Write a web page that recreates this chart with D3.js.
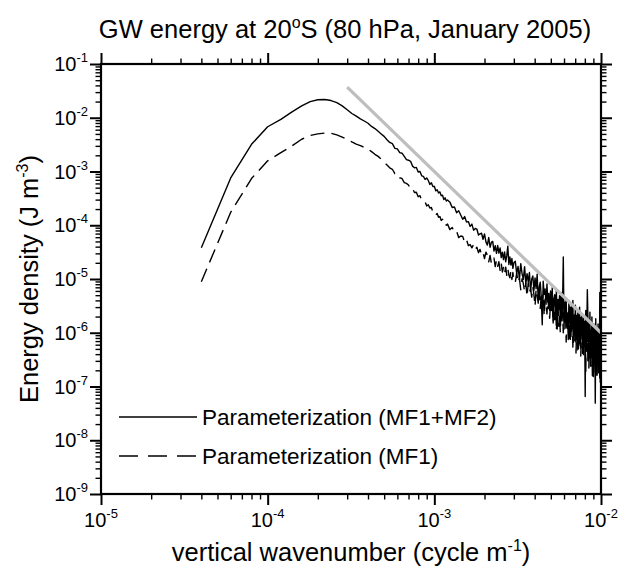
<!DOCTYPE html>
<html><head><meta charset="utf-8">
<script src="https://cdn.jsdelivr.net/npm/d3@7"></script>
<style>
body{margin:0;background:#fff}
svg{display:block}
text{font-family:"Liberation Sans",Arial,Helvetica,sans-serif;fill:#000}
</style>
</head><body>
<svg id="chart" width="621" height="572"></svg>
<script>
// ---------------- data ----------------
const wavenumber = [
4e-5,6e-5,8e-5,10e-5,12e-5,14e-5,16e-5,18e-5,20e-5,22e-5,24e-5,26e-5,28e-5,30e-5,32e-5,34e-5,36e-5,38e-5,40e-5,42e-5,
44e-5,46e-5,48e-5,50e-5,52e-5,54e-5,56e-5,58e-5,60e-5,62e-5,64e-5,66e-5,68e-5,70e-5,72e-5,74e-5,76e-5,78e-5,80e-5,82e-5,
84e-5,86e-5,88e-5,90e-5,92e-5,94e-5,96e-5,98e-5,100e-5,102e-5,104e-5,106e-5,108e-5,110e-5,112e-5,114e-5,116e-5,118e-5,120e-5,
124e-5,128e-5,132e-5,136e-5,140e-5,144e-5,148e-5,152e-5,156e-5,160e-5,164e-5,168e-5,172e-5,176e-5,180e-5,184e-5,188e-5,192e-5,196e-5,200e-5,
204e-5,208e-5,212e-5,216e-5,220e-5,224e-5,228e-5,232e-5,236e-5,240e-5,244e-5,248e-5,252e-5,256e-5,260e-5,264e-5,268e-5,272e-5,276e-5,280e-5,
284e-5,288e-5,292e-5,296e-5,300e-5,
306e-5,312e-5,318e-5,324e-5,330e-5,336e-5,342e-5,348e-5,354e-5,360e-5,366e-5,372e-5,378e-5,384e-5,390e-5,396e-5,402e-5,408e-5,414e-5,420e-5,
426e-5,432e-5,438e-5,444e-5,450e-5,456e-5,462e-5,468e-5,474e-5,480e-5,486e-5,492e-5,498e-5,504e-5,510e-5,516e-5,522e-5,528e-5,534e-5,540e-5,
546e-5,552e-5,558e-5,564e-5,570e-5,576e-5,582e-5,588e-5,594e-5,600e-5,606e-5,612e-5,618e-5,624e-5,630e-5,636e-5,642e-5,648e-5,654e-5,660e-5,
666e-5,672e-5,678e-5,684e-5,690e-5,696e-5,702e-5,708e-5,714e-5,720e-5,726e-5,732e-5,738e-5,744e-5,750e-5,756e-5,762e-5,768e-5,774e-5,780e-5,
786e-5,792e-5,798e-5,804e-5,810e-5,816e-5,822e-5,828e-5,834e-5,840e-5,846e-5,852e-5,858e-5,864e-5,870e-5,876e-5,882e-5,888e-5,894e-5,900e-5,
906e-5,912e-5,918e-5,924e-5,930e-5,936e-5,942e-5,948e-5,954e-5,960e-5,966e-5,972e-5,978e-5,984e-5,990e-5,996e-5,1000e-5
];

const energyMF1MF2 = [
3.8e-5,7.6e-4,3.2e-3,6.8e-3,9.3e-3,1.29e-2,1.66e-2,2.0e-2,2.16e-2,2.19e-2,2.09e-2,1.91e-2,1.66e-2,1.41e-2,1.20e-2,1.07e-2,9.55e-3,8.7e-3,7.9e-3,6.9e-3,
6.3e-3,5.6e-3,5.0e-3,4.5e-3,3.9e-3,3.47e-3,3.3e-3,2.7e-3,2.63e-3,2.24e-3,2.19e-3,1.91e-3,1.66e-3,1.62e-3,1.55e-3,1.26e-3,1.17e-3,1.19e-3,9.8e-4,1.0e-3,
8.3e-4,8.1e-4,7.1e-4,7.6e-4,6.8e-4,5.75e-4,6.2e-4,5.25e-4,5.3e-4,4.37e-4,4.57e-4,3.98e-4,4.17e-4,3.55e-4,3.63e-4,3.02e-4,3.24e-4,2.82e-4,2.95e-4,
2.69e-4,2.14e-4,2.19e-4,1.70e-4,1.86e-4,1.55e-4,1.29e-4,1.45e-4,1.15e-4,1.17e-4,9.5e-5,1.05e-4,8.1e-5,8.7e-5,8.5e-5,6.6e-5,6.9e-5,7.1e-5,5.5e-5,6.9e-5,
4.9e-5,4.27e-5,5.9e-5,3.9e-5,4.8e-5,5.0e-5,3.3e-5,4.17e-5,3.0e-5,4.2e-5,3.02e-5,3.8e-5,2.5e-5,3.16e-5,2.29e-5,3.2e-5,2.09e-5,2.69e-5,4.07e-5,1.86e-5,
2.57e-5,1.82e-5,2.4e-5,1.58e-5,2.0e-5,
2.14e-5,1.26e-5,1.72e-5,9.8e-6,1.93e-5,1.26e-5,9.9e-6,1.70e-5,8.1e-6,1.26e-5,8.8e-6,1.32e-5,5.9e-6,1.0e-5,1.14e-5,6.2e-6,
1.05e-5,6.6e-6,1.23e-5,4.07e-6,7.1e-6,8.7e-6,4.7e-6,1.41e-6,9.1e-6,5.2e-6,6.5e-6,3.4e-6,8.1e-6,3.7e-6,5.4e-6,2.63e-6,6.0e-6,
3.1e-6,6.9e-6,1.66e-6,4.27e-6,5.1e-6,2.14e-6,6.3e-6,1.17e-6,4.17e-6,2.69e-6,4.9e-6,1.55e-6,5.6e-6,1.82e-6,3.3e-6,2.57e-5,1.17e-6,3.7e-6,1.95e-6,4.37e-6,1.29e-6,2.34e-6,
7.5e-7,3.98e-6,1.48e-6,2.99e-6,8.5e-7,3.27e-6,1.55e-6,3.98e-6,6.6e-7,2.11e-6,1.0e-6,3.27e-6,7.5e-7,2.09e-6,4.8e-7,2.34e-6,1.66e-6,7.9e-7,3.0e-6,5.8e-7,1.93e-6,9.7e-7,2.29e-6,4.1e-7,1.24e-6,1.97e-6,5.8e-7,
1.62e-6,6.5e-8,2.6e-6,6.0e-7,1.2e-6,6.3e-6,2.14e-6,7.4e-7,1.66e-6,3.4e-7,2.4e-6,2.4e-7,1.11e-6,5.2e-7,1.97e-6,2.7e-7,1.24e-6,1.53e-7,1.46e-6,6.2e-7,
1.02e-6,4.9e-8,1.82e-6,1.64e-7,7.6e-7,1.12e-6,2.85e-7,1.46e-6,1.8e-7,7.5e-7,3.2e-7,5.6e-6,1.2e-7,8.6e-7,3.7e-7
];

const energyMF1 = [
8.9e-6,1.74e-4,7.4e-4,1.58e-3,2.24e-3,3.0e-3,3.98e-3,4.68e-3,5.0e-3,5.19e-3,5.13e-3,4.79e-3,4.37e-3,3.98e-3,3.55e-3,3.24e-3,3.02e-3,2.82e-3,2.63e-3,2.34e-3,
2.09e-3,1.91e-3,1.70e-3,1.48e-3,1.32e-3,1.17e-3,1.10e-3,9.1e-4,9.2e-4,7.6e-4,7.4e-4,6.2e-4,6.0e-4,5.6e-4,4.68e-4,4.8e-4,4.07e-4,4.1e-4,3.39e-4,3.55e-4,
2.88e-4,2.9e-4,2.75e-4,2.29e-4,2.4e-4,2.09e-4,2.14e-4,1.78e-4,1.8e-4,1.55e-4,1.66e-4,1.41e-4,1.45e-4,1.23e-4,1.29e-4,1.15e-4,1.2e-4,1.0e-4,1.05e-4,
8.3e-5,9.1e-5,7.4e-5,7.8e-5,5.9e-5,6.3e-5,6.2e-5,4.8e-5,5.4e-5,4.17e-5,4.37e-5,3.8e-5,4.4e-5,3.55e-5,3.9e-5,3.09e-5,3.55e-5,2.82e-5,3.1e-5,2.4e-5,
3.16e-5,2.79e-5,2.09e-5,2.75e-5,1.95e-5,2.02e-5,2.45e-5,1.70e-5,2.24e-5,1.72e-5,2.09e-5,1.45e-5,1.95e-5,1.35e-5,1.64e-5,1.26e-5,1.66e-5,1.17e-5,1.55e-5,1.19e-5,
1.05e-5,1.41e-5,9.8e-6,1.32e-5,9.1e-6,
8.6e-6,1.29e-5,8.6e-6,1.02e-5,6.3e-6,1.01e-5,8.2e-6,5.8e-6,8.3e-6,4.7e-6,8.5e-6,5.6e-6,6.5e-6,4.6e-6,7.1e-6,5.1e-6,
3.1e-6,6.5e-6,4.9e-6,3.55e-6,6.6e-6,2.82e-6,4.8e-6,3.16e-6,5.3e-6,2.04e-6,4.27e-6,3.67e-6,2.24e-6,4.57e-6,2.66e-6,1.86e-6,3.63e-6,
2.6e-6,4.27e-6,1.45e-6,2.99e-6,1.74e-6,4.27e-6,1.08e-6,2.82e-6,3.27e-6,1.32e-6,2.29e-6,1.0e-6,3.27e-6,1.48e-6,2.43e-6,1.0e-6,2.45e-6,1.51e-6,2.88e-6,6.7e-7,1.84e-6,1.14e-6,
2.57e-6,7.8e-7,1.51e-6,6.5e-7,2.19e-6,1.07e-6,2.34e-6,5.4e-7,1.58e-6,1.78e-6,6.6e-7,2.24e-6,4.2e-7,1.23e-6,7.9e-7,1.78e-6,5.0e-7,1.38e-6,6.3e-7,1.74e-6,3.7e-7,1.1e-6,9.3e-7,5.2e-7,1.66e-6,3.8e-7,1.05e-6,
6.5e-7,1.45e-6,1.74e-7,1.26e-6,4.5e-7,1.62e-6,3.0e-7,8.1e-7,2.2e-7,1.35e-6,4.8e-7,9.8e-7,2.4e-7,1.12e-6,5.2e-7,1.58e-7,1.29e-6,3.2e-7,7.1e-7,2.5e-7,
1.29e-6,1.82e-7,7.2e-7,3.7e-7,9.1e-7,1.41e-7,7.2e-7,3.7e-7,9.3e-7,1.9e-7,5.1e-7,1.38e-7,7.1e-7,2.8e-7,4.4e-7
];

// k^-3 reference line (end points)
const referenceWavenumber = [3e-4, 1e-2];
const referenceEnergy = [3.7e-2, 1.0e-6];

const xTickValues = [1e-5, 1e-4, 1e-3, 1e-2];
const xTickExponents = ["-5", "-4", "-3", "-2"];
const yTickValues = [1e-9, 1e-8, 1e-7, 1e-6, 1e-5, 1e-4, 1e-3, 1e-2, 1e-1];
const yTickExponents = ["-9", "-8", "-7", "-6", "-5", "-4", "-3", "-2", "-1"];

const seriesNames = ["Parameterization (MF1+MF2)", "Parameterization (MF1)"];
const seriesDash = [null, "14,7"];
const legendDash = [null, "19,10"];

const titleParts = ["GW energy at 20", "o", "S (80 hPa, January 2005)"];
const xTitleParts = ["vertical wavenumber (cycle m", "-1", ")"];
const yTitleParts = ["Energy density (J m", "-3", ")"];

// ---------------- layout ----------------
const L = 101, R = 601, T = 64, B = 494;
const svg = d3.select("#chart");

const x = d3.scaleLog().domain([1e-5, 1e-2]).range([L, R]);
const y = d3.scaleLog().domain([1e-9, 1e-1]).range([B, T]);

const isMajor = (v, list) => list.some(t => Math.abs(v - t) / t < 1e-6);
const xMinor = x.ticks().filter(v => !isMajor(v, xTickValues));
const yMinor = y.ticks().filter(v => !isMajor(v, yTickValues));

function styleAxis(g, w) {
  g.select(".domain").remove();
  g.selectAll(".tick line").attr("stroke", "#000").attr("stroke-width", w);
}
const majorLen = 11, minorLen = 5.5;
[[d3.axisBottom, x, B, "x"], [d3.axisTop, x, T, "x"], [d3.axisLeft, y, L, "y"], [d3.axisRight, y, R, "y"]].forEach(([ax, sc, pos, dim]) => {
  const tr = dim === "x" ? `translate(0,${pos})` : `translate(${pos},0)`;
  const majors = dim === "x" ? xTickValues : yTickValues;
  const minors = dim === "x" ? xMinor : yMinor;
  svg.append("g").attr("transform", tr)
    .call(ax(sc).tickValues(majors).tickSize(majorLen).tickFormat(""))
    .call(g => styleAxis(g, 2));
  svg.append("g").attr("transform", tr)
    .call(ax(sc).tickValues(minors).tickSize(minorLen).tickFormat(""))
    .call(g => styleAxis(g, 1.4));
});

// curves
const line = d3.line().x(d => x(d[0])).y(d => y(d[1]));
const n = Math.min(wavenumber.length, energyMF1MF2.length, energyMF1.length);
const series = [energyMF1MF2, energyMF1];
series.forEach((vals, i) => {
  const pts = d3.range(n).map(j => [wavenumber[j], vals[j]]);
  svg.append("path").datum(pts)
    .attr("d", line)
    .attr("fill", "none")
    .attr("stroke", "#000")
    .attr("stroke-width", 1.4)
    .attr("stroke-linejoin", "round")
    .attr("stroke-dasharray", seriesDash[i]);
});

// reference slope line
svg.append("path")
  .datum(referenceWavenumber.map((k, i) => [k, referenceEnergy[i]]))
  .attr("d", line)
  .attr("fill", "none")
  .attr("stroke", "#bebebe")
  .attr("stroke-width", 3.2);

// frame
svg.append("rect").attr("x", L).attr("y", T).attr("width", R - L).attr("height", B - T)
  .attr("fill", "none").attr("stroke", "#000").attr("stroke-width", 2.2);

// tick labels
function powerLabel(sel, exp, fs, supFs, supDy) {
  sel.append("tspan").text("10").attr("font-size", fs);
  sel.append("tspan").text(exp).attr("font-size", supFs).attr("dy", supDy);
}
xTickValues.forEach((v, i) => {
  const t = svg.append("text").attr("x", x(v)).attr("y", 527).attr("text-anchor", "middle");
  powerLabel(t, xTickExponents[i], 20, 13, -9);
});
yTickValues.forEach((v, i) => {
  const t = svg.append("text").attr("x", 88).attr("y", y(v) + 7).attr("text-anchor", "end");
  powerLabel(t, yTickExponents[i], 20, 13, -9);
});

function partsText(sel, parts, fs, supFs, supDy) {
  sel.append("tspan").text(parts[0]).attr("font-size", fs);
  sel.append("tspan").text(parts[1]).attr("font-size", supFs).attr("dy", supDy);
  sel.append("tspan").text(parts[2]).attr("font-size", fs).attr("dy", -supDy);
}
partsText(svg.append("text").attr("x", 345).attr("y", 38).attr("text-anchor", "middle"), titleParts, 25.5, 16, -10);
partsText(svg.append("text").attr("x", 351).attr("y", 561).attr("text-anchor", "middle"), xTitleParts, 25.5, 16, -10);
partsText(svg.append("text").attr("transform", "translate(38,279) rotate(-90)").attr("text-anchor", "middle"), yTitleParts, 25.5, 16, -10);

// legend
const legendY = [417, 456];
seriesNames.forEach((name, i) => {
  svg.append("line").attr("x1", 119).attr("x2", 197).attr("y1", legendY[i]).attr("y2", legendY[i])
    .attr("stroke", "#000").attr("stroke-width", 1.3).attr("stroke-dasharray", legendDash[i]);
  svg.append("text").attr("x", 202).attr("y", legendY[i] + 8).attr("font-size", 22.5).text(name);
});
</script>
</body></html>
